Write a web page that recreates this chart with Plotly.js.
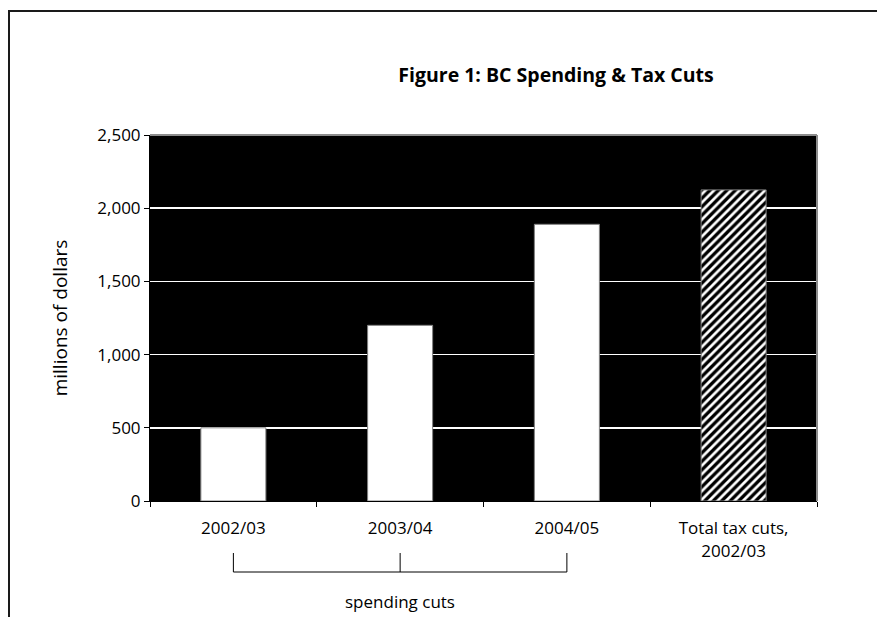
<!DOCTYPE html>
<html>
<head>
<meta charset="utf-8">
<script src="https://cdn.plot.ly/plotly-3.0.1.min.js"></script>
<style>html,body{margin:0;padding:0;background:#fff;}#chart{width:877px;height:617px;}</style>
</head>
<body>
<div id="chart"></div>
<script>
const categories = ["2002/03", "2003/04", "2004/05", "Total tax cuts,<br>2002/03"];
const values = [500, 1200, 1890, 2125];
const patternShapes = ["", "", "", "/"];
const yTickVals = [0, 500, 1000, 1500, 2000, 2500];
const titleText = "Figure 1: BC Spending & Tax Cuts";
const yTitle = "millions of dollars";
const bracketLabel = "spending cuts";
const bracketCats = [0, 1, 2];

const FONT = "Open Sans, Noto Sans, sans-serif";
const W = 877, H = 617;
const L = 150, R = 817, T = 135, B = 501;
const px = x => (x - L) / (R - L);
const py = y => (B - y) / (B - T);

const trace = {
  type: "bar",
  x: categories,
  y: values,
  width: 0.39,
  marker: {
    color: "#ffffff",
    line: {color: "#808080", width: 1},
    pattern: {shape: patternShapes, fgcolor: "#ffffff", bgcolor: "#000000", size: 6, solidity: 0.45, fillmode: "replace"}
  },
  hoverinfo: "skip"
};

const shapes = [
  {type: "line", xref: "paper", yref: "paper", x0: 0, x1: 1, y0: 1, y1: 1, line: {color: "#8c8c8c", width: 2}},
  {type: "line", xref: "paper", yref: "paper", x0: 1, x1: 1, y0: 0, y1: 1, line: {color: "#8c8c8c", width: 2}},
  {type: "path", xref: "paper", yref: "paper",
   path: `M ${px(9)} ${py(H + 5)} L ${px(9)} ${py(11)} L ${px(W + 5)} ${py(11)}`,
   line: {color: "#1a1a1a", width: 2}},
  {type: "line", xref: "x", yref: "paper", x0: bracketCats[0], x1: bracketCats[bracketCats.length - 1], y0: py(572), y1: py(572), line: {color: "#000", width: 1}}
];
bracketCats.forEach(c => shapes.push({type: "line", xref: "x", yref: "paper", x0: c, x1: c, y0: py(572), y1: py(553), line: {color: "#000", width: 1}}));

const layout = {
  width: W, height: H,
  margin: {l: L, r: W - R, t: T, b: H - B},
  paper_bgcolor: "#ffffff",
  plot_bgcolor: "#000000",
  font: {family: FONT, color: "#000", size: 17},
  showlegend: false,
  bargap: 0.61,
  title: {
    text: "<b>" + titleText + "</b>",
    font: {family: FONT, size: 19.5, color: "#000"},
    x: px(556), xref: "paper", xanchor: "center",
    y: 1 - 75 / H, yref: "container", yanchor: "middle"
  },
  xaxis: {
    type: "category",
    tickson: "boundaries",
    ticks: "outside", ticklen: 5, tickcolor: "#000",
    showline: true, linecolor: "#000", linewidth: 1,
    showgrid: false,
    tickfont: {family: FONT, size: 17},
    ticklabelstandoff: 12,
    automargin: false
  },
  yaxis: {
    range: [0, 2500],
    tickvals: yTickVals,
    tickformat: ",",
    ticks: "outside", ticklen: 5, tickcolor: "#000",
    showline: true, linecolor: "#000", linewidth: 1,
    showgrid: true, gridcolor: "#ffffff", gridwidth: 1.5,
    zeroline: false,
    tickfont: {family: FONT, size: 17},
    title: {text: yTitle, font: {family: FONT, size: 19}, standoff: 24},
    automargin: false
  },
  shapes: shapes,
  annotations: [
    {text: bracketLabel, xref: "x", yref: "paper", x: 1, y: py(601), showarrow: false,
     xanchor: "center", yanchor: "middle", font: {family: FONT, size: 17}}
  ]
};

Plotly.newPlot("chart", [trace], layout, {displayModeBar: false, staticPlot: true});
</script>
</body>
</html>
